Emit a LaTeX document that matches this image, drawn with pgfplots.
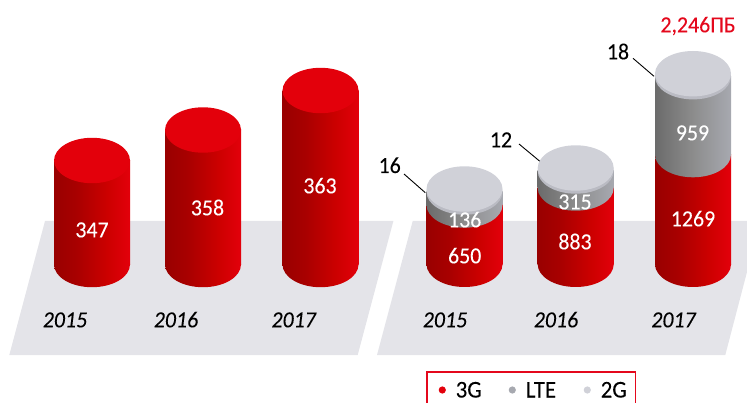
\documentclass[border=0pt]{standalone}
\usepackage{fontspec}
\setmainfont{Carlito}[FakeStretch=0.95,FakeBold=0.08]
\usepackage{pgfplots}
\pgfplotsset{compat=1.18}
\definecolor{plate}{HTML}{E4E4E9}
\definecolor{redtop}{HTML}{E3000B}
\definecolor{gtop}{HTML}{D0D1D8}
\definecolor{grim}{HTML}{BABBC3}
\definecolor{lteleg}{HTML}{A7A9B0}
\definecolor{totred}{HTML}{E4081C}
\pgfdeclarehorizontalshading{redcyl}{100bp}{color(0bp)=(red!60!black); color(25bp)=(red!60!black); color(40bp)=(red!60!black!85!red); color(60bp)=(red!80!black); color(75bp)=(redtop); color(100bp)=(redtop)}
\pgfdeclarehorizontalshading{ltecyl}{100bp}{color(0bp)=(black!58); color(25bp)=(black!58); color(50bp)=(black!45); color(75bp)=(lteleg); color(100bp)=(lteleg)}
\pgfdeclareplotmark{redend}{\pgfpathellipse{\pgfpointorigin}{\pgfqpoint{38pt}{0pt}}{\pgfqpoint{0pt}{22.7pt}}\pgfshadepath{redcyl}{0}\pgfusepath{discard}}
\pgfdeclareplotmark{lteend}{\pgfpathellipse{\pgfpointorigin}{\pgfqpoint{38pt}{0pt}}{\pgfqpoint{0pt}{22.7pt}}\pgfshadepath{ltecyl}{0}\pgfusepath{discard}}
\pgfdeclareplotmark{flatend}{\pgfpathellipse{\pgfpointorigin}{\pgfqpoint{38pt}{0pt}}{\pgfqpoint{0pt}{22.7pt}}\pgfusepathqfill}
\pgfdeclareplotmark{legdot}{\pgfpathcircle{\pgfpointorigin}{3.6pt}\pgfusepathqfill}
% #1 x left, #2 x right, #3 y lower, #4 y upper, #5 shading
\newcommand{\cylbody}[5]{\addplot[draw=none,shading=#5,shading angle=0] coordinates {(#1,#3) (#2,#3) (#2,#4) (#1,#4)};}
\newcommand{\cylend}[3]{\addplot[only marks,mark=#1,mark options={draw=none}] coordinates {(#2,#3)};}
\newcommand{\cyltop}[4]{\addplot[only marks,mark=flatend,mark options={draw=none,fill=#1}] coordinates {(#3,#4)};}
\pgfplotsset{
  lbl/.style={draw=none,mark=none,point meta=explicit symbolic,nodes near coords,
    nodes near coords align=center,
    every node near coord/.append style={anchor=center,inner sep=0pt,text height=14.6pt,text depth=0pt,text=#1,font=\fontsize{23}{26}\selectfont}},
  legl/.style={draw=none,mark=none,point meta=explicit symbolic,nodes near coords,
    nodes near coords align=center,
    every node near coord/.append style={anchor=center,inner sep=0pt,text height=15pt,text depth=0pt,text=black,font=\fontsize{24}{27}\selectfont}},
  year/.style={draw=none,mark=none,point meta=explicit symbolic,nodes near coords,
    nodes near coords align=center,
    every node near coord/.append style={anchor=center,inner sep=0pt,text height=14.6pt,text depth=0pt,text=black,font=\fontsize{23}{26}\selectfont\itshape}},
}
\begin{document}
\begin{tikzpicture}
\useasboundingbox (0,0) rectangle (747pt,403pt);
\begin{axis}[
  at={(0,0)},anchor=south west,
  width=747pt,height=403pt,scale only axis,
  xmin=0,xmax=747,ymin=0,ymax=403,y dir=reverse,
  hide axis,clip=true,enlargelimits=false,
]
% floor plates
\addplot[draw=none,fill=plate] coordinates {(45,221) (393.4,221) (357.7,355) (9.3,355)};
\addplot[draw=none,fill=plate] coordinates {(412.7,221) (747,221) (747,272) (725.3,355) (377,355)};

% left group
\cylend{redend}{92}{264.5}
\cylbody{54}{130}{264.5}{160.5}{redcyl}
\cyltop{redtop}{}{92}{160.5}
\cylend{redend}{203}{264.5}
\cylbody{165}{241}{264.5}{130}{redcyl}
\cyltop{redtop}{}{203}{130}
\cylend{redend}{320.5}{264.5}
\cylbody{282.5}{358.5}{264.5}{90.5}{redcyl}
\cyltop{redtop}{}{320.5}{90.5}

% right group, 2015
\cylend{redend}{464.5}{264.3}
\cylbody{426.5}{502.5}{264.3}{205}{redcyl}
\cylend{lteend}{464.5}{205}
\cylbody{426.5}{502.5}{205}{192}{ltecyl}
\cyltop{grim}{}{464.5}{192}
\cyltop{gtop}{}{464.5}{189}
% right group, 2016
\cylend{redend}{575.7}{264.3}
\cylbody{537.7}{613.7}{264.3}{188}{redcyl}
\cylend{lteend}{575.7}{188}
\cylbody{537.7}{613.7}{188}{171}{ltecyl}
\cyltop{grim}{}{575.7}{171}
\cyltop{gtop}{}{575.7}{168}
% right group, 2017
\cylend{redend}{693}{264.3}
\cylbody{655}{731}{264.3}{154.6}{redcyl}
\cylend{lteend}{693}{154.6}
\cylbody{655}{731}{154.6}{76.7}{ltecyl}
\cyltop{grim}{}{693}{76.7}
\cyltop{gtop}{}{693}{73.7}

% callout leaders
\addplot[black,line width=0.9pt] coordinates {(404,174) (425.3,192.7)};
\addplot[black,line width=0.9pt] coordinates {(519,144) (540.7,162)};
\addplot[black,line width=0.9pt] coordinates {(633,58.3) (654,76.3)};

% value labels
\addplot[lbl=white] coordinates {
 (92,230) [347] (207.5,208) [358] (320,186) [363]
 (464.7,220) [136] (464.7,256) [650]
 (575,202) [315] (575,242) [883]
 (692.5,133) [959] (693,219) [1269]};
\addplot[lbl=black] coordinates {(389.7,165.7) [16] (501,140) [12] (618,52) [18]};
\addplot[lbl=totred] coordinates {(698,25) [{2,246ПБ}]};

% years
\addplot[year] coordinates {(65,320) [2015] (176,320) [2016] (293.7,320) [2017]
 (445,320) [2015] (556,320) [2016] (673.5,320) [2017]};

% legend
\addplot[totred,line width=1.2pt] coordinates {(427,403) (427,372) (635.7,372) (635.7,403)};
\addplot[only marks,mark=legdot,mark options={draw=none,fill=redtop}] coordinates {(442.3,390)};
\addplot[only marks,mark=legdot,mark options={draw=none,fill=lteleg}] coordinates {(512.3,390)};
\addplot[only marks,mark=legdot,mark options={draw=none,fill=gtop}] coordinates {(587.3,390)};
\addplot[legl] coordinates {(468.7,390) [3G] (541,390) [LTE] (613.7,390) [2G]};
\end{axis}
\end{tikzpicture}
\end{document}
